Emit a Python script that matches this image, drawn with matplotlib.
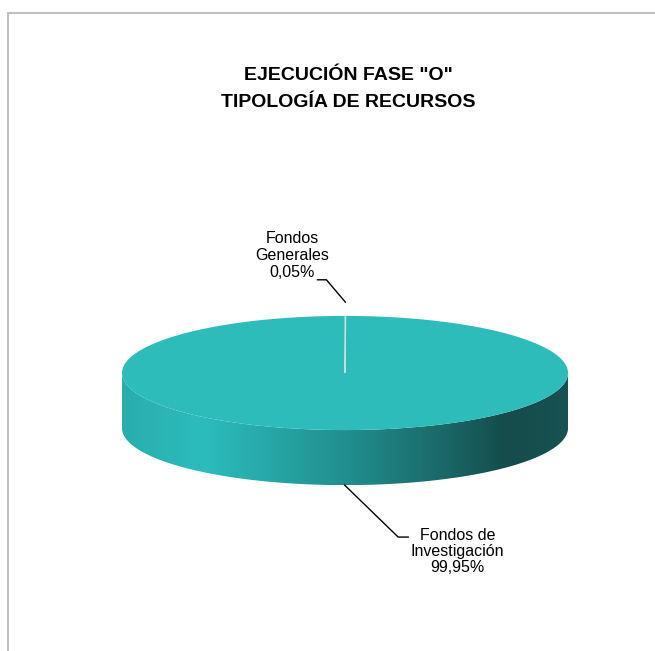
import numpy as np
import matplotlib
matplotlib.use('Agg')
import matplotlib.pyplot as plt
from matplotlib.colors import LinearSegmentedColormap
from matplotlib.patches import Polygon, Rectangle

# data
categories = ['Fondos Generales', 'Fondos de Investigación']
shares = [0.05, 99.95]
pct_labels = ['0,05%', '99,95%']
label_text = ['Fondos\nGenerales', 'Fondos de\nInvestigación']

TITLE = 'EJECUCIÓN FASE "O"\nTIPOLOGÍA DE RECURSOS'

TOP_COLOR = '#2ebcbb'
SLICE_COLORS = ['#c4dfdf', TOP_COLOR]
SIDE_STOPS = [(0.0, '#29adad'), (0.18, '#2dbcbc'), (0.5, '#208f8f'),
              (0.72, '#1b6868'), (0.86, '#154c4c'), (1.0, '#185252')]

TILT = 0.256    # vertical squash of the top face
DEPTH = 0.247   # thickness of the disc

plt.rcParams['font.family'] = ['Liberation Sans', 'DejaVu Sans']

fig = plt.figure(figsize=(6.55, 6.51), dpi=100)
ax = fig.add_axes([0, 0, 1, 1])
ax.set_xlim(-1.547, 1.390)
ax.set_ylim(-1.247, 1.673)
ax.axis('off')

# outer chart border (left and top only visible)
fig.patches.append(Rectangle((8 / 655, -0.2), 1.2, 1.2 - 13 / 651,
                             transform=fig.transFigure, fill=False,
                             edgecolor='#c0c0c0', lw=1.5, zorder=0))
fig.text(0.532, 1 - 89 / 651, TITLE, ha='center', va='center', fontsize=14,
         fontweight='bold', linespacing=1.7)


def rim(theta):
    return np.cos(theta), TILT * np.sin(theta)


# side of the disc (front half) with horizontal gradient
th = np.linspace(np.pi, 2 * np.pi, 200)
tx, ty = rim(th)
side = np.concatenate([np.column_stack([tx, ty]),
                       np.column_stack([tx[::-1], ty[::-1] - DEPTH])])
side_patch = Polygon(side, closed=True, facecolor='none', edgecolor='none')
ax.add_patch(side_patch)
cmap = LinearSegmentedColormap.from_list('side', SIDE_STOPS)
grad = np.linspace(0, 1, 256).reshape(1, -1)
im = ax.imshow(grad, cmap=cmap, extent=[-1, 1, -TILT - DEPTH, 0],
               aspect='auto', zorder=1, interpolation='bicubic')
im.set_clip_path(side_patch)

# top face slices, Excel style: start at 12 o'clock, clockwise
fracs = np.array(shares) / np.sum(shares)
start = np.pi / 2
mids = []
for frac, col in zip(fracs, SLICE_COLORS):
    end = start - 2 * np.pi * frac
    a = np.linspace(start, end, max(3, int(400 * frac)))
    px, py = rim(a)
    pts = np.column_stack([np.r_[0, px], np.r_[0, py]])
    ax.add_patch(Polygon(pts, closed=True, facecolor=col,
                         edgecolor=col if frac < 0.01 else 'none',
                         lw=0.8, zorder=3 if frac < 0.01 else 2))
    mids.append((start + end) / 2)
    start = end

# labels with leader lines
for mid, name, pct in zip(mids, label_text, pct_labels):
    x0, y0 = rim(mid)
    if np.sin(mid) > 0:
        sx, sy = x0, y0 + 0.062
        ex, ey = sx - 0.085, sy + 0.10
        hx = ex - 0.04
        ax.plot([sx, ex, hx], [sy, ey, ey], color='black', lw=1.0, zorder=4)
        ax.text(hx - 0.112, ey + 0.11, f'{name}\n{pct}', ha='center', va='center',
                fontsize=11.5, linespacing=1.15)
    else:
        sx, sy = x0, y0 - DEPTH
        ex, ey = sx + 0.24, sy - 0.233
        hx = ex + 0.045
        ax.plot([sx, ex, hx], [sy, ey, ey], color='black', lw=1.0, zorder=4)
        ax.text(hx + 0.22, ey - 0.064, f'{name}\n{pct}', ha='center', va='center',
                fontsize=11.5, linespacing=1.1)

fig.savefig('out.png', dpi=100)
